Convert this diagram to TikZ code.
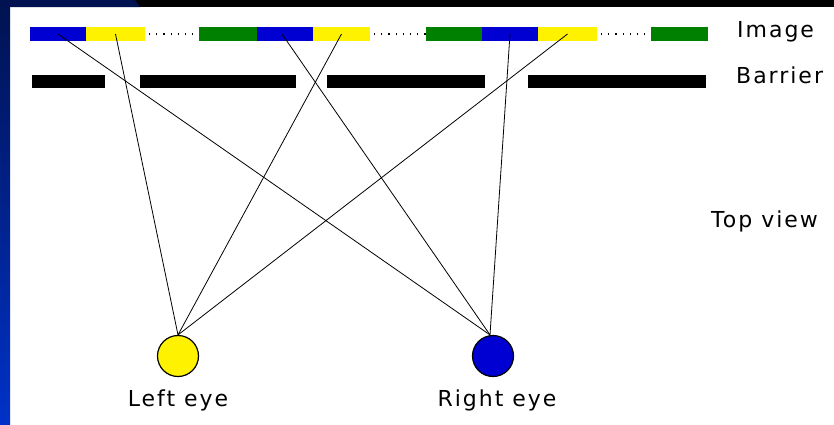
\documentclass[tikz,border=0pt]{standalone}
\usepackage{fontspec}
\setmainfont{DejaVu Sans}[LetterSpace=9]
\definecolor{segblue}{RGB}{0,0,210}
\definecolor{seggreen}{RGB}{0,128,0}
\definecolor{navy}{RGB}{0,18,80}
\definecolor{slideblue}{RGB}{0,50,200}
\begin{document}
\begin{tikzpicture}[x=1pt, y=-1pt,
    seg/.style={minimum height=14pt, inner sep=0pt, outer sep=0pt, anchor=west},
    wall/.style={fill=black, minimum height=13pt, inner sep=0pt, outer sep=0pt, anchor=west},
    eye/.style={circle, draw=black, line width=1.2pt, minimum size=41pt, inner sep=0pt},
    ray/.style={black, line width=0.8pt},
    gap/.style={black, line width=1.2pt, dash pattern=on 1.2pt off 6pt},
    lbl/.style={font=\fontsize{22}{26}\selectfont, inner sep=0pt}]
  \useasboundingbox (0,0) rectangle (834,424);
  % slide frame
  \fill[white] (0,0) rectangle (834,424);
  \fill[black] (0,0) rectangle (834,7);
  \fill[navy] (0,0) -- (135,0) -- (140,7) -- (0,7) -- cycle;
  \shade[top color=navy, bottom color=slideblue] (0,0) rectangle (10,424);

  % image strips
  \node[seg, fill=segblue, minimum width=56pt] (b1) at (30,34) {};
  \node[seg, fill=yellow, minimum width=59pt] (y1) at (86,34) {};
  \node[seg, fill=seggreen, minimum width=58pt] (g1) at (199,34) {};
  \node[seg, fill=segblue, minimum width=56pt] (b2) at (257,34) {};
  \node[seg, fill=yellow, minimum width=57pt] (y2) at (313,34) {};
  \node[seg, fill=seggreen, minimum width=56pt] (g2) at (426,34) {};
  \node[seg, fill=segblue, minimum width=56pt] (b3) at (482,34) {};
  \node[seg, fill=yellow, minimum width=59pt] (y3) at (538,34) {};
  \node[seg, fill=seggreen, minimum width=57pt] (g3) at (651,34) {};
  \draw[gap] ([xshift=4pt]y1.east) -- (g1.west);
  \draw[gap] ([xshift=4pt]y2.east) -- (g2.west);
  \draw[gap] ([xshift=4pt]y3.east) -- (g3.west);

  % barrier
  \node[wall, minimum width=73pt] (w1) at (32,81.5) {};
  \node[wall, minimum width=156pt] (w2) at (140,81.5) {};
  \node[wall, minimum width=158pt] (w3) at (327,81.5) {};
  \node[wall, minimum width=178pt] (w4) at (528,81.5) {};

  % eyes
  \node[eye, fill=yellow] (le) at (178,356) {};
  \node[eye, fill=segblue] (re) at (493,356) {};

  % lines of sight
  \draw[ray] (le.north) -- (y1.center);
  \draw[ray] (le.north) -- (y2.center);
  \draw[ray] (le.north) -- (y3.center);
  \draw[ray] ([xshift=-3pt]re.north) -- (b1.center);
  \draw[ray] ([xshift=-3pt]re.north) -- ([xshift=-3pt]b2.center);
  \draw[ray] ([xshift=-3pt]re.north) -- (b3.center);

  % labels
  \node[lbl, anchor=base west] (limg) at (737,37) {Image};
  \node[lbl, anchor=base west] (lbar) at (736,83) {Barrier};
  \node[lbl, anchor=base west] (ltop) at (711,227) {Top view};
  \node[lbl, anchor=base] (lle) at (le.center |- 0,406) {Left eye};
  \node[lbl, anchor=base] (lre) at (497,406) {Right eye};
\end{tikzpicture}
\end{document}
